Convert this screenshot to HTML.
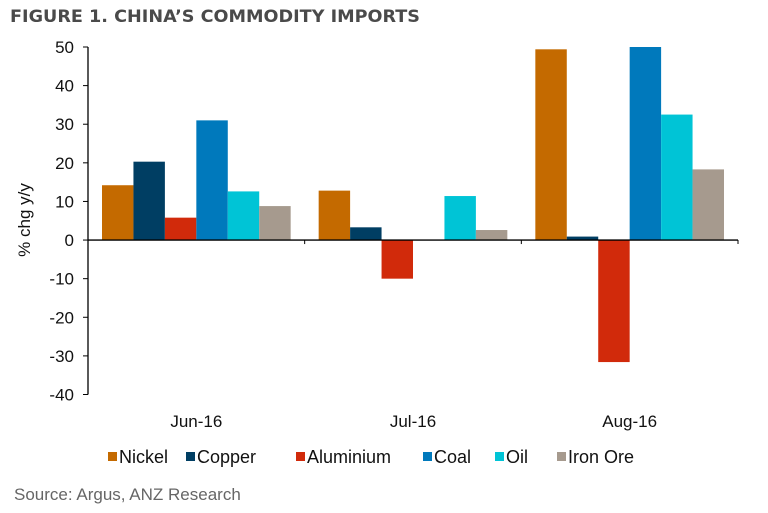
<!DOCTYPE html>
<html><head><meta charset="utf-8"><style>
body{margin:0;background:#fff;width:768px;height:508px;overflow:hidden}
svg{font-family:"Liberation Sans","DejaVu Sans",sans-serif}
</style></head><body>
<svg width="768" height="508">
<text x="10" y="22" font-family="DejaVu Sans, sans-serif" font-weight="bold" font-size="17" fill="#4a4a4a" textLength="410" lengthAdjust="spacingAndGlyphs">FIGURE 1. CHINA’S COMMODITY IMPORTS</text>
<g id="plot"></g>
<text x="14" y="500" font-size="17" fill="#666">Source: Argus, ANZ Research</text>
</svg>
<script>
const categories=["Jun-16","Jul-16","Aug-16"];
const seriesNames=["Nickel","Copper","Aluminium","Coal","Oil","Iron Ore"];
const colors=["#c46a00","#003e63","#d12a0b","#0079bc","#00c4d6","#a69a8e"];
const nickel=[14.2,12.8,49.4];
const copper=[20.3,3.3,0.9];
const aluminium=[5.8,-10,-31.6];
const coal=[31,0,50];
const oil=[12.6,11.4,32.5];
const ironOre=[8.8,2.6,18.3];
const yTicks=[50,40,30,20,10,0,-10,-20,-30,-40];
const series=[nickel,copper,aluminium,coal,oil,ironOre];
const NS="http://www.w3.org/2000/svg";
const g=document.getElementById('plot');
const x0=88,x1=738,yTop=47,yBot=394.5,vMax=50,vMin=-40;
const y=v=>yTop+(vMax-v)*(yBot-yTop)/(vMax-vMin);
const gw=(x1-x0)/categories.length, pad=14, bw=(gw-2*pad)/series.length;
function mk(t,a){const e=document.createElementNS(NS,t);for(const k in a)e.setAttribute(k,a[k]);g.appendChild(e);return e;}
series.forEach((s,si)=>s.forEach((v,ci)=>{
 const bx=x0+ci*gw+pad+si*bw;
 const r=mk('rect',{x:bx,y:Math.min(y(v),y(0)),width:bw,height:Math.abs(y(v)-y(0)),fill:colors[si]});
 
 
}));
const ax=mk('line',{x1:x0,x2:x0,y1:yTop,y2:yBot,stroke:'#000','stroke-width':1.3});


const zx=mk('line',{x1:x0,x2:x1,y1:y(0),y2:y(0),stroke:'#000','stroke-width':1.3});


yTicks.forEach(t=>{
 mk('line',{x1:x0-5,x2:x0,y1:y(t),y2:y(t),stroke:'#000'});
 const tx=mk('text',{x:x0-14,y:y(t)+6,'text-anchor':'end','font-size':17,fill:'#111'});
 tx.textContent=t;
 
 
});
for(let i=1;i<=categories.length;i++)mk('line',{x1:x0+i*gw,x2:x0+i*gw,y1:y(0),y2:y(0)+4,stroke:'#000'});
categories.forEach((c,i)=>{
 const tx=mk('text',{x:x0+i*gw+gw/2,y:427,'text-anchor':'middle','font-size':17,fill:'#111'});
 tx.textContent=c;
 
 
});
const yl=mk('text',{transform:'translate(30,220) rotate(-90)','text-anchor':'middle','font-size':17,fill:'#111'});
yl.textContent='% chg y/y';


const legX=[108,186,296,423,495,557];
seriesNames.forEach((n,i)=>{
 mk('rect',{x:legX[i],y:452,width:9,height:9,fill:colors[i]});
 const tx=mk('text',{x:legX[i]+11,y:463,'font-size':18,fill:'#111'});
 tx.textContent=n;
 
 
});
</script>
</body></html>
